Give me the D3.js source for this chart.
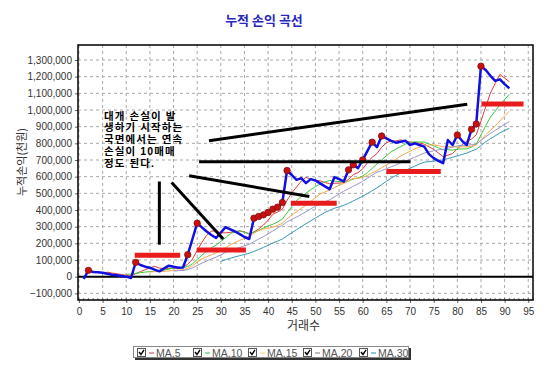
<!DOCTYPE html>
<html>
<head>
<meta charset="utf-8">
<script src="https://cdn.jsdelivr.net/npm/d3@7/dist/d3.min.js"></script>
<style>
  body { margin: 0; background: #fff; }
  svg { display: block; }
</style>
</head>
<body>
<svg id="drawing_region"></svg>
<script>
// 누적 손익 (그림에서 읽은 값, 천 단위로 적고 아래에서 원 단위로 바꿈)
const trades = d3.range(1, 92);
const equity = [
  -14, 38, 28, 26, 24, 18, 12, 8, 4, 0,
  -8, 86, 70, 60, 54, 42, 32, 50, 66, 60,
  54, 55, 132, 226, 321, 296, 271, 250, 232, 265,
  297, 284, 271, 255, 238, 226, 351, 361, 371, 385,
  405, 417, 445, 637, 610, 581, 591, 561, 585, 577,
  560, 542, 525, 597, 585, 571, 641, 671, 651, 701,
  755, 807, 777, 844, 830, 815, 804, 810, 816, 790,
  800, 790, 780, 735, 711, 695, 681, 820, 790, 850,
  815, 790, 884, 916, 1263, 1240, 1205, 1175, 1184, 1155,
  1130
].map(v => v * 1000);
const newHighs = [2, 12, 23, 25, 37, 38, 39, 40, 41, 42, 43, 44, 57, 58, 60, 62, 64, 80, 83, 84, 85];

const maPeriods = [5, 10, 15, 20, 30];
const maColors = ['#e03a3a', '#3cc83c', '#f5a94a', '#9a98c8', '#3a98b8'];
const legendColors = ['#e05070', '#50c878', '#f8d8a0', '#909090', '#4aa0c0'];

const xTicks = d3.range(0, 100, 5);
const yTicks = d3.range(-100000, 1400000, 100000);

// 주석: 빨간 막대 [시작, 끝, 값], 검은 선 [x1, y1, x2, y2]
const redBars = [
  [11.8, 21.4, 128000],
  [24.9, 35.3, 160000],
  [44.8, 54.5, 441000],
  [65.0, 76.5, 631000],
  [85.1, 94.0, 1036000]
];
const blackLines = [
  [17.0, 571000, 17.0, 192000],
  [19.6, 565000, 30.5, 226000],
  [23.3, 605000, 48.7, 481000],
  [25.4, 690000, 70.1, 690000],
  [27.5, 816000, 82.1, 1034000]
];
const noteLines = ['대개 손실이 발', '생하기 시작하는', '국면에서는 연속', '손실이 10매매', '정도 된다.'];

const config = {
  width: 545,
  height: 375,
  margin: {top: 45, right: 12, bottom: 75, left: 78}
};

const svg = d3.select('#drawing_region')
  .attr('width', config.width)
  .attr('height', config.height);

const inner_width = config.width - config.margin.left - config.margin.right;
const inner_height = config.height - config.margin.top - config.margin.bottom;

const chart = svg.append('g')
  .attr('transform', `translate(${config.margin.left}, ${config.margin.top})`);

const xscale = d3.scaleLinear().domain([-0.2, 96]).range([0, inner_width]);
const yscale = d3.scaleLinear().domain([-140000, 1390000]).range([inner_height, 0]);

// 격자
chart.append('g').selectAll('line').data(xTicks).enter().append('line')
  .attr('x1', d => xscale(d)).attr('x2', d => xscale(d))
  .attr('y1', 0).attr('y2', inner_height)
  .attr('stroke', '#a8a8a8').attr('stroke-dasharray', '3,3');
chart.append('g').selectAll('line').data(yTicks).enter().append('line')
  .attr('x1', 0).attr('x2', inner_width)
  .attr('y1', d => yscale(d)).attr('y2', d => yscale(d))
  .attr('stroke', '#a8a8a8').attr('stroke-dasharray', '3,3');

// 축
const xaxis = d3.axisBottom(xscale).tickValues(xTicks).tickSize(3).tickPadding(5);
const yaxis = d3.axisLeft(yscale).tickValues(yTicks).tickSize(3).tickPadding(3)
  .tickFormat(d3.format(','));

const xg = chart.append('g').attr('transform', `translate(0, ${inner_height})`).call(xaxis);
const yg = chart.append('g').call(yaxis);
[xg, yg].forEach(g => {
  g.select('.domain').remove();
  g.selectAll('line').attr('stroke', '#666');
  g.selectAll('text').attr('fill', '#333')
    .style('font-family', '"Liberation Sans", Arial, sans-serif').style('font-size', '10px');
});

// 작은 눈금
chart.append('g').selectAll('line').data(d3.range(0, 97)).enter().append('line')
  .attr('x1', d => xscale(d)).attr('x2', d => xscale(d))
  .attr('y1', inner_height - 2).attr('y2', inner_height)
  .attr('stroke', '#777');

// 0 선
chart.append('line')
  .attr('x1', 0).attr('x2', inner_width)
  .attr('y1', yscale(0)).attr('y2', yscale(0))
  .attr('stroke', '#000').attr('stroke-width', 2);

// 이동평균선
const series = trades.map((t, i) => ({t: t, v: equity[i]}));
const line = d3.line().x(d => xscale(d.t)).y(d => yscale(d.v));

maPeriods.forEach((n, k) => {
  const ma = series.slice(n - 1).map((d, i) => ({
    t: d.t,
    v: d3.mean(equity.slice(i, i + n))
  }));
  chart.append('path').datum(ma)
    .attr('d', line)
    .attr('fill', 'none')
    .attr('stroke', maColors[k])
    .attr('stroke-width', 1);
});

// 누적 손익 곡선
chart.append('path').datum(series)
  .attr('d', line)
  .attr('fill', 'none')
  .attr('stroke', '#1010e0')
  .attr('stroke-width', 2.5)
  .attr('stroke-linejoin', 'round');

chart.selectAll('circle').data(series.filter(d => newHighs.includes(d.t))).enter()
  .append('circle')
  .attr('cx', d => xscale(d.t))
  .attr('cy', d => yscale(d.v))
  .attr('r', 3.2)
  .attr('fill', '#c81010')
  .attr('stroke', '#801010')
  .attr('stroke-width', 0.8);

// 주석
chart.append('g').selectAll('line').data(blackLines).enter().append('line')
  .attr('x1', d => xscale(d[0])).attr('y1', d => yscale(d[1]))
  .attr('x2', d => xscale(d[2])).attr('y2', d => yscale(d[3]))
  .attr('stroke', '#000').attr('stroke-width', 3);

chart.append('g').selectAll('line').data(redBars).enter().append('line')
  .attr('x1', d => xscale(d[0])).attr('x2', d => xscale(d[1]))
  .attr('y1', d => yscale(d[2])).attr('y2', d => yscale(d[2]))
  .attr('stroke', '#e81c1c').attr('stroke-width', 5);

const note = svg.append('text')
  .attr('fill', '#000')
  .style('font-family', '"Liberation Sans", "Noto Sans CJK KR", sans-serif')
  .style('font-size', '10.5px')
  .style('font-weight', 'bold')
  .style('letter-spacing', '1.1px');
note.selectAll('tspan').data(noteLines).enter().append('tspan')
  .attr('x', 104)
  .attr('y', (d, i) => 119.5 + i * 11.8)
  .text(d => d);

// 테두리
chart.append('rect')
  .attr('width', inner_width).attr('height', inner_height)
  .attr('fill', 'none').attr('stroke', '#000').attr('stroke-width', 1.5);

// 제목, 축 제목
svg.append('text')
  .attr('x', 264).attr('y', 25)
  .attr('text-anchor', 'middle')
  .attr('fill', '#2828c0')
  .style('font-family', '"Noto Sans CJK KR", sans-serif')
  .style('font-size', '13px').style('font-weight', 'bold')
  .text('누적 손익 곡선');

svg.append('text')
  .attr('x', config.margin.left + xscale(47.5)).attr('y', 330)
  .attr('text-anchor', 'middle')
  .attr('fill', '#333')
  .style('font-family', '"Noto Sans CJK KR", sans-serif')
  .style('font-size', '12px')
  .text('거래수');

svg.append('text')
  .attr('transform', 'translate(26, 162) rotate(-90)')
  .attr('text-anchor', 'middle')
  .attr('fill', '#333')
  .style('font-family', '"Noto Sans CJK KR", sans-serif')
  .style('font-size', '11px')
  .text('누적손익(천원)');

// 범례
const legend = svg.append('g');
legend.append('rect').attr('x', 135).attr('y', 348).attr('width', 276).attr('height', 12).attr('fill', '#333');
legend.append('rect').attr('x', 133.5).attr('y', 346.5).attr('width', 275).attr('height', 11)
  .attr('fill', '#fff').attr('stroke', '#888');

const legendX = [137, 193, 248, 303, 359];
const items = legend.selectAll('g.item').data(maPeriods).enter().append('g')
  .attr('transform', (d, i) => `translate(${legendX[i]}, 348)`);
items.append('rect').attr('x', 0.5).attr('y', 0.5).attr('width', 8).attr('height', 8)
  .attr('fill', '#fff').attr('stroke', '#555');
items.append('path').attr('d', 'M2,4 L4,6.5 L7,1.8')
  .attr('fill', 'none').attr('stroke', '#000').attr('stroke-width', 1.4);
items.append('line').attr('x1', 12).attr('x2', 17).attr('y1', 5).attr('y2', 5)
  .attr('stroke', (d, i) => legendColors[i]).attr('stroke-width', 1.2);
items.append('text').attr('x', 19).attr('y', 9)
  .attr('fill', '#555')
  .style('font-family', '"Liberation Sans", Arial, sans-serif')
  .style('font-size', '10.5px')
  .text(d => 'MA,' + d);
</script>
</body>
</html>
